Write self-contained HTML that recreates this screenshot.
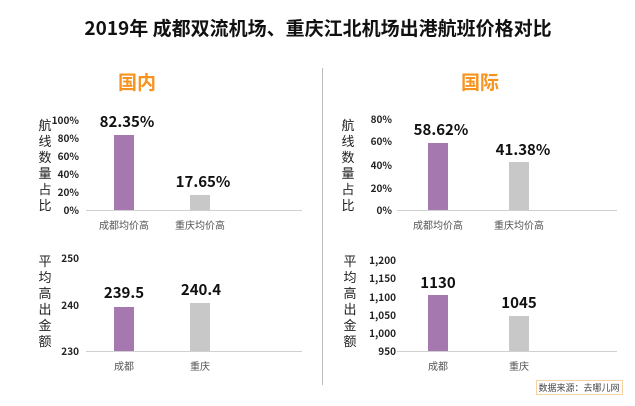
<!DOCTYPE html>
<html><head><meta charset="utf-8"><style>
body{margin:0;background:#fff}
svg{display:block}
text{font-family:"Noto Sans CJK SC","Liberation Sans",sans-serif}
.t{font-size:10px;font-weight:bold;fill:#222;text-anchor:end}
.v{font-size:15px;font-weight:bold;fill:#111;text-anchor:middle}
.c{font-size:10px;fill:#555;text-anchor:middle}
.a{font-size:13px;fill:#222;text-anchor:middle}
</style></head><body>
<svg width="635" height="406" viewBox="0 0 635 406">
<text x="318" y="35" font-size="19" font-weight="bold" text-anchor="middle" fill="#111">2019年 成都双流机场、重庆江北机场出港航班价格对比</text>
<text x="137" y="89" font-size="19" font-weight="bold" text-anchor="middle" fill="#f7931e">国内</text>
<text x="480" y="89" font-size="19" font-weight="bold" text-anchor="middle" fill="#f7931e">国际</text>
<line x1="322.5" y1="68" x2="322.5" y2="385" stroke="#bbb" stroke-width="1"/>

<!-- left top -->
<text class="a" x="45" y="130">航</text><text class="a" x="45" y="146">线</text><text class="a" x="45" y="162">数</text><text class="a" x="45" y="178">量</text><text class="a" x="45" y="194">占</text><text class="a" x="45" y="210">比</text>
<text class="t" x="79" y="124">100%</text><text class="t" x="79" y="142">80%</text><text class="t" x="79" y="160">60%</text><text class="t" x="79" y="178">40%</text><text class="t" x="79" y="196">20%</text><text class="t" x="79" y="214">0%</text>
<line x1="86" y1="210.5" x2="302" y2="210.5" stroke="#d0d0d0"/>
<rect x="114" y="135" width="20" height="75" fill="#a678b0"/>
<rect x="190" y="195" width="20" height="15" fill="#c8c8c8"/>
<text class="v" x="127" y="127">82.35%</text><text class="v" x="203" y="187">17.65%</text>
<text class="c" x="124" y="229">成都均价高</text><text class="c" x="200" y="229">重庆均价高</text>

<!-- left bottom -->
<text class="a" x="45" y="266">平</text><text class="a" x="45" y="282">均</text><text class="a" x="45" y="298">高</text><text class="a" x="45" y="314">出</text><text class="a" x="45" y="330">金</text><text class="a" x="45" y="346">额</text>
<text class="t" x="79" y="262">250</text><text class="t" x="79" y="309">240</text><text class="t" x="79" y="355">230</text>
<line x1="86" y1="351.5" x2="302" y2="351.5" stroke="#d0d0d0"/>
<rect x="114" y="307" width="20" height="44" fill="#a678b0"/>
<rect x="190" y="303" width="20" height="48" fill="#c8c8c8"/>
<text class="v" x="124" y="298">239.5</text><text class="v" x="201" y="295">240.4</text>
<text class="c" x="124" y="370">成都</text><text class="c" x="200" y="370">重庆</text>

<!-- right top -->
<text class="a" x="348" y="130">航</text><text class="a" x="348" y="146">线</text><text class="a" x="348" y="162">数</text><text class="a" x="348" y="178">量</text><text class="a" x="348" y="194">占</text><text class="a" x="348" y="210">比</text>
<text class="t" x="392" y="123">80%</text><text class="t" x="392" y="145">60%</text><text class="t" x="392" y="169">40%</text><text class="t" x="392" y="192">20%</text><text class="t" x="392" y="214">0%</text>
<line x1="397" y1="210.5" x2="617" y2="210.5" stroke="#d0d0d0"/>
<rect x="428" y="143" width="20" height="67" fill="#a678b0"/>
<rect x="509" y="162" width="20" height="48" fill="#c8c8c8"/>
<text class="v" x="441" y="135">58.62%</text><text class="v" x="523" y="155">41.38%</text>
<text class="c" x="438" y="229">成都均价高</text><text class="c" x="519" y="229">重庆均价高</text>

<!-- right bottom -->
<text class="a" x="350" y="266">平</text><text class="a" x="350" y="282">均</text><text class="a" x="350" y="298">高</text><text class="a" x="350" y="314">出</text><text class="a" x="350" y="330">金</text><text class="a" x="350" y="346">额</text>
<text class="t" x="396" y="264">1,200</text><text class="t" x="396" y="282">1,150</text><text class="t" x="396" y="301">1,100</text><text class="t" x="396" y="319">1,050</text><text class="t" x="396" y="337">1,000</text><text class="t" x="396" y="355">950</text>
<line x1="397" y1="351.5" x2="617" y2="351.5" stroke="#d0d0d0"/>
<rect x="428" y="295" width="20" height="56" fill="#a678b0"/>
<rect x="509" y="316" width="20" height="35" fill="#c8c8c8"/>
<text class="v" x="438" y="288">1130</text><text class="v" x="519" y="308">1045</text>
<text class="c" x="438" y="370">成都</text><text class="c" x="519" y="370">重庆</text>

<rect x="536.5" y="380.5" width="86" height="14" fill="#fff" stroke="#f5d3a0"/>
<text x="579" y="391" font-size="9" text-anchor="middle" fill="#444">数据来源：去哪儿网</text>
</svg>
</body></html>
